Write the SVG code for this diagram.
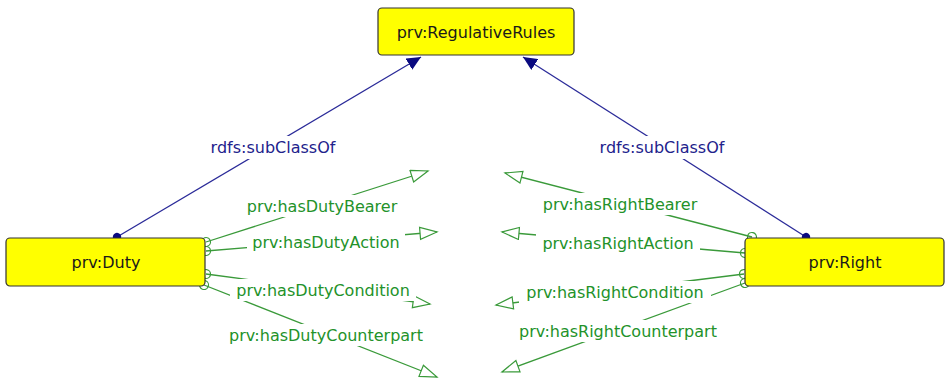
<svg xmlns="http://www.w3.org/2000/svg" width="945" height="380" viewBox="0 0 945 380">
<style>
.node rect{fill:#ffff00;stroke:#333333;stroke-width:1.2}
.node text{font-family:"DejaVu Sans",sans-serif;font-size:16px;fill:#1a1a1a;text-anchor:middle}
.sub{stroke:#2b2b99;stroke-width:1.3;fill:none;marker-start:url(#dot);marker-end:url(#tri)}
.prop{stroke:#3a9a3a;stroke-width:1.3;fill:none;marker-start:url(#circ);marker-end:url(#open)}
.lbl rect{fill:#ffffff}
.lbl text{font-family:"DejaVu Sans",sans-serif;font-size:16px;text-anchor:middle}
.lb text{fill:#22228c}
.lg text{fill:#23922a}
</style>
<defs>
<marker id="tri" markerUnits="userSpaceOnUse" markerWidth="15" markerHeight="13" refX="14" refY="6.5" orient="auto"><path d="M0,0 L14,6.5 L0,13 z" fill="#0a0a80"/></marker>
<marker id="dot" markerUnits="userSpaceOnUse" markerWidth="10" markerHeight="10" refX="5" refY="5" orient="auto"><circle cx="5" cy="5" r="4.2" fill="#0a0a80"/></marker>
<marker id="open" markerUnits="userSpaceOnUse" markerWidth="20" markerHeight="16" refX="18" refY="7" orient="auto"><path d="M1,1 L18,7 L1,13 z" fill="#ffffff" stroke="#3a9a3a" stroke-width="1.2"/></marker>
<marker id="circ" markerUnits="userSpaceOnUse" markerWidth="12" markerHeight="12" refX="6" refY="6" orient="auto"><circle cx="6" cy="6" r="4.5" fill="none" stroke="#3a9a3a" stroke-width="1.2"/></marker>
</defs>
<g id="connectors">
<line class="sub" x1="117" y1="237" x2="421" y2="57"/>
<line class="sub" x1="806" y1="237" x2="523" y2="57"/>
<line class="prop" x1="206" y1="242" x2="428" y2="171"/>
<line class="prop" x1="206" y1="251" x2="437" y2="232"/>
<line class="prop" x1="206" y1="274" x2="430" y2="304"/>
<line class="prop" x1="204" y1="285" x2="437" y2="377"/>
<line class="prop" x1="752" y1="237" x2="505" y2="173"/>
<line class="prop" x1="745" y1="253" x2="502" y2="232"/>
<line class="prop" x1="744" y1="274" x2="496" y2="305"/>
<line class="prop" x1="745" y1="283" x2="502" y2="372"/>
<g class="lbl lb">
<rect x="205" y="136" width="136" height="23"/><text x="273" y="153">rdfs:subClassOf</text>
<rect x="594" y="136" width="136" height="23"/><text x="662" y="153">rdfs:subClassOf</text>
</g>
<g class="lbl lg">
<rect x="243" y="195" width="158" height="22"/><text x="322" y="212">prv:hasDutyBearer</text>
<rect x="247" y="231" width="158" height="22"/><text x="326" y="248">prv:hasDutyAction</text>
<rect x="230" y="279" width="186" height="22"/><text x="323" y="296">prv:hasDutyCondition</text>
<rect x="223" y="324" width="206" height="22"/><text x="326" y="341">prv:hasDutyCounterpart</text>
<rect x="538" y="193" width="164" height="22"/><text x="620" y="210">prv:hasRightBearer</text>
<rect x="536" y="232" width="164" height="22"/><text x="618" y="249">prv:hasRightAction</text>
<rect x="519" y="281" width="192" height="22"/><text x="615" y="298">prv:hasRightCondition</text>
<rect x="512" y="320" width="212" height="22"/><text x="618" y="337">prv:hasRightCounterpart</text>
</g>
</g>
<g id="RegulativeRules" class="node"><rect x="378" y="8" width="196" height="47" rx="4"/><text x="476" y="38">prv:RegulativeRules</text></g>
<g id="Duty" class="node"><rect x="6" y="238" width="199" height="48" rx="4"/><text x="106" y="268">prv:Duty</text></g>
<g id="Right" class="node"><rect x="745" y="238" width="199" height="48" rx="4"/><text x="845" y="268">prv:Right</text></g>
</svg>
